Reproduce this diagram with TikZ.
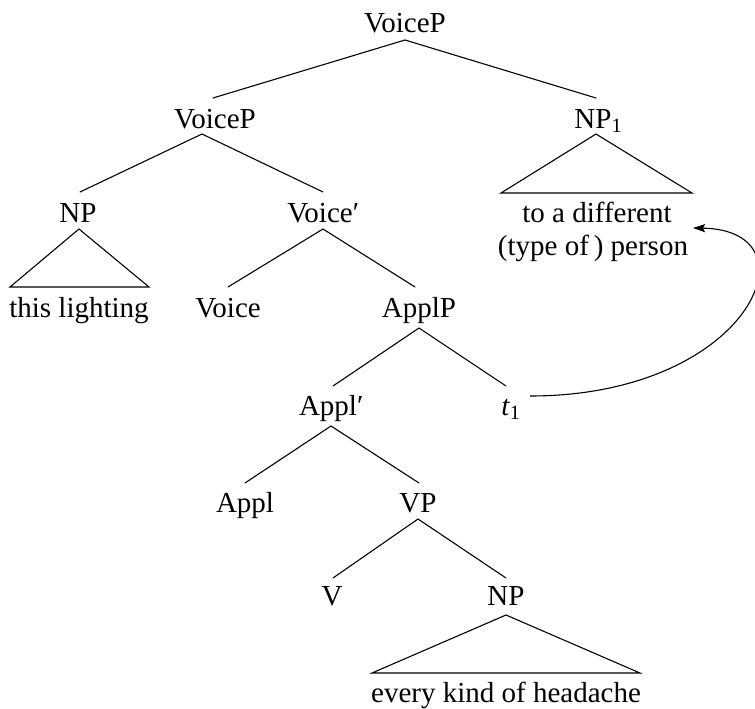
\documentclass[tikz,border=0pt]{standalone}
\usepackage{fontspec}
\setmainfont{Liberation Serif}
\usetikzlibrary{calc,arrows.meta}
\begin{document}
\begin{tikzpicture}[x=1pt,y=-1pt,
  lbl/.style={anchor=base,inner sep=0pt,font=\fontsize{29}{33}\selectfont},
  branch/.style={line width=1.1pt,line cap=round},
  movearrow/.style={line width=1.1pt,-{Stealth[length=12pt,width=8pt,inset=2pt]}}]
\useasboundingbox (0,0) rectangle (755,709);

% labels, positioned by their baselines
\node[lbl] (vp0)   at (405,33)  {VoiceP};
\node[lbl] (vp1)   at (215,128) {VoiceP};
\node[lbl] (np1)   at (593,128) {NP\rlap{\textsubscript{1}}};
\node[lbl] (np)    at (78,222)  {NP};
\node[lbl] (vbar)  at (320,222) {Voice\rlap{\symbol{"2032}}};
\node[lbl] (difa)  at (597,222) {to a different};
\node[lbl] (pers)  at (593,255) {(type of\,) person};
\node[lbl] (light) at (79,317)  {this lighting};
\node[lbl] (voice) at (228,317) {Voice};
\node[lbl] (applp) at (419,317) {ApplP};
\node[lbl] (abar)  at (328,415) {Appl\rlap{\symbol{"2032}}};
\node[lbl] (t1)    at (511,415) {\textit{t}\textsubscript{1}};
\node[lbl] (appl)  at (245,512) {Appl};
\node[lbl] (vp)    at (418,512) {VP};
\node[lbl] (v)     at (332,605) {V};
\node[lbl] (np2)   at (506,605) {NP};
\node[lbl] (head)  at (506,702) {every kind of headache};

% branches
\draw[branch] ($(vp1.base)+(-2,-30)$) -- ($(vp0.base)+(0,7)$) -- ($(np1.base)+(3,-30)$);
\draw[branch] ($(np.base)+(2,-30)$) -- ($(vp1.base)+(-13,6)$) -- ($(vbar.base)+(3,-30)$);
\draw[branch] ($(voice.base)+(0,-30)$) -- ($(vbar.base)+(3,7)$) -- ($(applp.base)+(-4,-30)$);
\draw[branch] ($(abar.base)+(5,-29)$) -- ($(applp.base)+(0,11)$) -- ($(t1.base)+(-5,-29)$);
\draw[branch] ($(appl.base)+(0,-29)$) -- ($(abar.base)+(3,11)$) -- ($(vp.base)+(1,-29)$);
\draw[branch] ($(v.base)+(1,-27)$) -- ($(vp.base)+(0,7)$) -- ($(np2.base)+(0,-27)$);

% triangles over unanalysed phrases
\draw[branch,line join=miter] ($(np.base)+(1,7)$) -- ($(light.base)+(-69,-30)$) -- ($(light.base)+(70,-30)$) -- cycle;
\draw[branch,line join=miter] ($(np1.base)+(3,6)$) -- ($(difa.base)+(-96,-29)$) -- ($(difa.base)+(95,-29)$) -- cycle;
\draw[branch,line join=miter] ($(np2.base)+(0,10)$) -- ($(head.base)+(-134,-29)$) -- ($(head.base)+(134,-29)$) -- cycle;

% movement of the trace to NP_1
\draw[movearrow] ($(t1.base)+(19,-19)$) .. controls (750,396) and (820,230) .. ($(difa.base)+(96,6)$);
\end{tikzpicture}
\end{document}
